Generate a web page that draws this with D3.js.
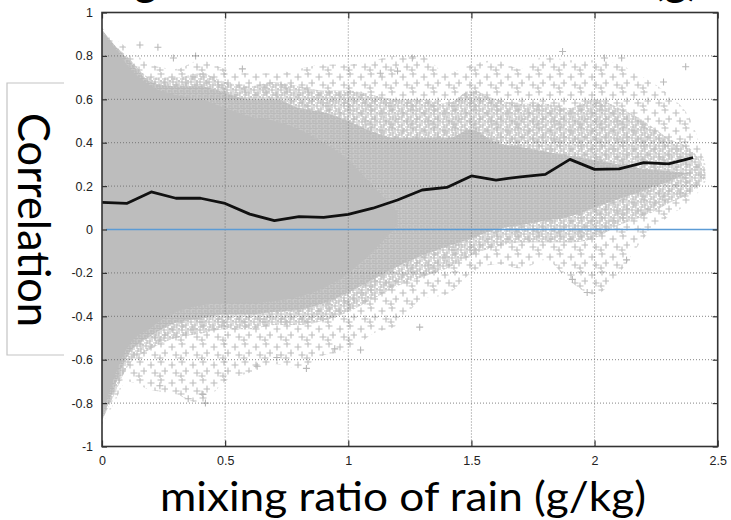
<!DOCTYPE html>
<html>
<head>
<meta charset="utf-8">
<script src="https://d3js.org/d3.v7.min.js"></script>
<style>
  body { margin: 0; background: #fff; }
  .tick text { font-family: "Liberation Sans", Arial, sans-serif; font-size: 12.5px; fill: #222; }
  .big { font-family: Lato, "Open Sans", sans-serif; fill: #000; }
</style>
</head>
<body>
<div class="viz"></div>
<script>
// x (g/kg) where the outline of the scatter cloud was read
var binX      = [0, 0.05, 0.1, 0.2, 0.3, 0.4, 0.5, 0.6, 0.7, 0.8, 0.9, 1.0, 1.1, 1.2, 1.3, 1.4, 1.5, 1.6, 1.7, 1.8, 1.9, 2.0, 2.1, 2.2, 2.3, 2.4, 2.45];
// outermost scattered points
var outerTop  = [0.93, 0.88, 0.84, 0.76, 0.74, 0.78, 0.74, 0.72, 0.72, 0.74, 0.76, 0.76, 0.78, 0.80, 0.80, 0.72, 0.76, 0.78, 0.74, 0.80, 0.78, 0.78, 0.76, 0.70, 0.62, 0.48, 0.30];
var outerBot  = [-0.90, -0.80, -0.70, -0.74, -0.76, -0.80, -0.70, -0.66, -0.62, -0.64, -0.58, -0.56, -0.48, -0.44, -0.32, -0.30, -0.20, -0.16, -0.18, -0.14, -0.24, -0.30, -0.20, -0.04, 0.06, 0.14, 0.22];
// well filled band
var denseTop  = [0.92, 0.85, 0.80, 0.70, 0.70, 0.72, 0.68, 0.66, 0.68, 0.66, 0.64, 0.64, 0.62, 0.60, 0.60, 0.58, 0.64, 0.60, 0.58, 0.58, 0.56, 0.60, 0.56, 0.50, 0.42, 0.36, 0.28];
var denseBot  = [-0.88, -0.76, -0.64, -0.55, -0.50, -0.48, -0.46, -0.46, -0.44, -0.44, -0.42, -0.38, -0.32, -0.26, -0.22, -0.18, -0.12, -0.08, -0.06, -0.06, -0.06, -0.04, 0.02, 0.06, 0.12, 0.18, 0.24];
// nearly filled band
var heavyTop  = [0.92, 0.85, 0.79, 0.68, 0.66, 0.66, 0.63, 0.60, 0.60, 0.56, 0.54, 0.50, 0.45, 0.42, 0.42, 0.42, 0.46, 0.40, 0.38, 0.36, 0.34, 0.32, 0.30, 0.28, 0.27, 0.26, 0.26];
var heavyBot  = [-0.88, -0.73, -0.59, -0.49, -0.43, -0.41, -0.39, -0.39, -0.38, -0.37, -0.34, -0.29, -0.23, -0.17, -0.12, -0.08, -0.04, 0.00, 0.02, 0.04, 0.06, 0.10, 0.14, 0.18, 0.22, 0.26, 0.26];
// solid grey core (only left part)
var coreTop   = [0.91, 0.84, 0.76, 0.66, 0.62, 0.60, 0.56, 0.52, 0.50, 0.46, 0.40, 0.32, 0.20, 0.08];
var coreBot   = [-0.86, -0.68, -0.55, -0.45, -0.38, -0.35, -0.34, -0.34, -0.33, -0.31, -0.27, -0.20, -0.10, 0.02];

// single points outside the cloud
var outliers = [[0.154, 0.85], [0.227, 0.84], [0.29, 0.79], [0.38, 0.80], [0.57, 0.74], [1.13, 0.72], [1.2, 0.73],
  [1.26, 0.79], [1.87, 0.82], [2.04, 0.79], [2.11, 0.79], [2.28, 0.68], [2.37, 0.75],
  [0.235, -0.72], [0.35, -0.78], [0.41, -0.76], [0.42, -0.80], [0.63, -0.63], [0.71, -0.59], [0.83, -0.64],
  [0.945, -0.55], [1.05, -0.555], [1.29, -0.45], [1.91, -0.23], [1.97, -0.29], [2.13, -0.14]];

// black line: mean correlation per bin
var meanX    = [0, 0.1, 0.2, 0.3, 0.4, 0.5, 0.6, 0.7, 0.8, 0.9, 1.0, 1.1, 1.2, 1.3, 1.4, 1.5, 1.6, 1.7, 1.8, 1.9, 2.0, 2.1, 2.2, 2.3, 2.4];
var meanCorr = [0.125, 0.12, 0.173, 0.144, 0.144, 0.12, 0.071, 0.041, 0.059, 0.056, 0.07, 0.098, 0.136, 0.182, 0.194, 0.247, 0.228, 0.243, 0.254, 0.323, 0.277, 0.279, 0.308, 0.302, 0.331];

var xTicks = [0, 0.5, 1, 1.5, 2, 2.5];
var yTicks = [-1, -0.8, -0.6, -0.4, -0.2, 0, 0.2, 0.4, 0.6, 0.8, 1];

var W = 731, H = 520;
var x = d3.scaleLinear().domain([0, 2.5]).range([102, 717.7]);
var y = d3.scaleLinear().domain([-1, 1]).range([446.5, 12.5]);

var svg = d3.select('.viz').append('svg').attr('width', W).attr('height', H);
var defs = svg.append('defs');

defs.append('clipPath').attr('id', 'plot')
    .append('rect').attr('x', x(0)).attr('y', y(1)).attr('width', x(2.5) - x(0)).attr('height', y(-1) - y(1));

var plus = function(a) { return 'M' + (-a) + ',0H' + a + 'M0,' + (-a) + 'V' + a; };

// repeating tiles of "+" marks, only used as texture
function makePattern(id, w, h, spots, arm, col, bg) {
  var p = defs.append('pattern').attr('id', id).attr('patternUnits', 'userSpaceOnUse')
      .attr('width', w).attr('height', h);
  if (bg) p.append('rect').attr('width', w).attr('height', h).style('fill', bg);
  p.selectAll('path').data(spots).enter().append('path')
      .attr('d', plus(arm))
      .attr('transform', function(d) { return 'translate(' + d[0] + ',' + d[1] + ')'; })
      .style('stroke', col).style('stroke-width', 1.1).style('fill', 'none');
}
makePattern('sparse', 21, 18, [[4, 5], [14, 2], [18, 11], [8, 13], [13, 16]], 3.5, '#bcbcbc');
makePattern('dense', 9, 8, [[2, 2], [6, 5], [3, 7], [8, 1]], 3, '#bdbdbd');
makePattern('heavy', 6, 5, [[1, 1], [4, 3.5]], 3, '#bababa', '#c9c9c9');

var idx = function(arr) { return arr.map(function(v, i) { return i; }); };
var bandArea = function(top, bot) {
  return d3.area().curve(d3.curveMonotoneX)
      .x(function(i) { return x(binX[i]); })
      .y0(function(i) { return y(bot[i]); })
      .y1(function(i) { return y(top[i]); });
};

var g = svg.append('g').attr('clip-path', 'url(#plot)');

g.append('path').datum(idx(outerTop)).attr('d', bandArea(outerTop, outerBot))
    .style('fill', 'url(#sparse)');
g.append('path').datum(idx(denseTop)).attr('d', bandArea(denseTop, denseBot))
    .style('fill', 'url(#dense)');
g.append('path').datum(idx(heavyTop)).attr('d', bandArea(heavyTop, heavyBot))
    .style('fill', 'url(#heavy)');
g.append('path').datum(idx(coreTop)).attr('d', bandArea(coreTop, coreBot))
    .style('fill', '#bdbdbd');

g.selectAll('.out').data(outliers).enter().append('path').attr('class', 'out')
    .attr('d', plus(3.5))
    .attr('transform', function(d) { return 'translate(' + x(d[0]) + ',' + y(d[1]) + ')'; })
    .style('stroke', '#b8b8b8').style('stroke-width', 1.1).style('fill', 'none');

// dotted grid
g.selectAll('.gx').data(xTicks.slice(1, -1)).enter().append('line')
    .attr('x1', x).attr('x2', x).attr('y1', y(-1)).attr('y2', y(1))
    .style('stroke', '#666').style('stroke-width', 0.8).style('stroke-dasharray', '1,2');
g.selectAll('.gy').data(yTicks.filter(function(v) { return v != 0 && Math.abs(v) != 1; })).enter().append('line')
    .attr('y1', y).attr('y2', y).attr('x1', x(0)).attr('x2', x(2.5))
    .style('stroke', '#666').style('stroke-width', 0.8).style('stroke-dasharray', '1,2');

// zero line
g.append('line').attr('x1', x(0.016)).attr('x2', x(2.5)).attr('y1', y(0)).attr('y2', y(0))
    .style('stroke', '#5b9bd5').style('stroke-width', 1.3);

// mean correlation
g.append('path').datum(meanX)
    .attr('d', d3.line().x(function(d) { return x(d); }).y(function(d, i) { return y(meanCorr[i]); }))
    .style('fill', 'none').style('stroke', '#111').style('stroke-width', 2.8).style('stroke-linejoin', 'round');

// axes
var fmt = function(d) { return String(d); };
var noLab = function() { return ''; };
svg.append('g').attr('transform', 'translate(' + x(0) + ',0)')
    .call(d3.axisLeft(y).tickValues(yTicks).tickFormat(fmt).tickSizeInner(-5).tickSizeOuter(0).tickPadding(9));
svg.append('g').attr('transform', 'translate(' + x(2.5) + ',0)')
    .call(d3.axisRight(y).tickValues(yTicks).tickFormat(noLab).tickSizeInner(-5).tickSizeOuter(0));
svg.append('g').attr('transform', 'translate(0,' + y(-1) + ')')
    .call(d3.axisBottom(x).tickValues(xTicks).tickFormat(fmt).tickSizeInner(-6).tickSizeOuter(0).tickPadding(10));
svg.append('g').attr('transform', 'translate(0,' + y(1) + ')')
    .call(d3.axisTop(x).tickValues(xTicks).tickFormat(noLab).tickSizeInner(-6).tickSizeOuter(0));
svg.selectAll('.domain').remove();
svg.selectAll('.tick line').style('stroke', '#333').style('stroke-width', 1.2);

svg.append('rect').attr('x', x(0)).attr('y', y(1)).attr('width', x(2.5) - x(0)).attr('height', y(-1) - y(1))
    .style('fill', 'none').style('stroke', '#333').style('stroke-width', 1.6);

// labels
svg.append('path').attr('d', 'M64,83H7V355H64')
    .style('fill', 'none').style('stroke', '#c4c4c4').style('stroke-width', 1.2);

svg.append('text').attr('class', 'big')
    .attr('transform', 'translate(18,220) rotate(90)')
    .attr('text-anchor', 'middle').style('font-size', '45px')
    .attr('textLength', 214).attr('lengthAdjust', 'spacingAndGlyphs')
    .text('Correlation');

svg.append('text').attr('class', 'big')
    .attr('x', 160).attr('y', 511)
    .style('font-size', '41px')
    .attr('textLength', 486).attr('lengthAdjust', 'spacingAndGlyphs')
    .text('mixing ratio of rain (g/kg)');

// title, cut off at the top of the slide
svg.append('text').attr('class', 'big').attr('x', 134).attr('y', -5).style('font-size', '45px').text('g');
svg.append('text').attr('class', 'big').attr('x', 652).attr('y', -5).style('font-size', '45px').text('(g)');
</script>
</body>
</html>
